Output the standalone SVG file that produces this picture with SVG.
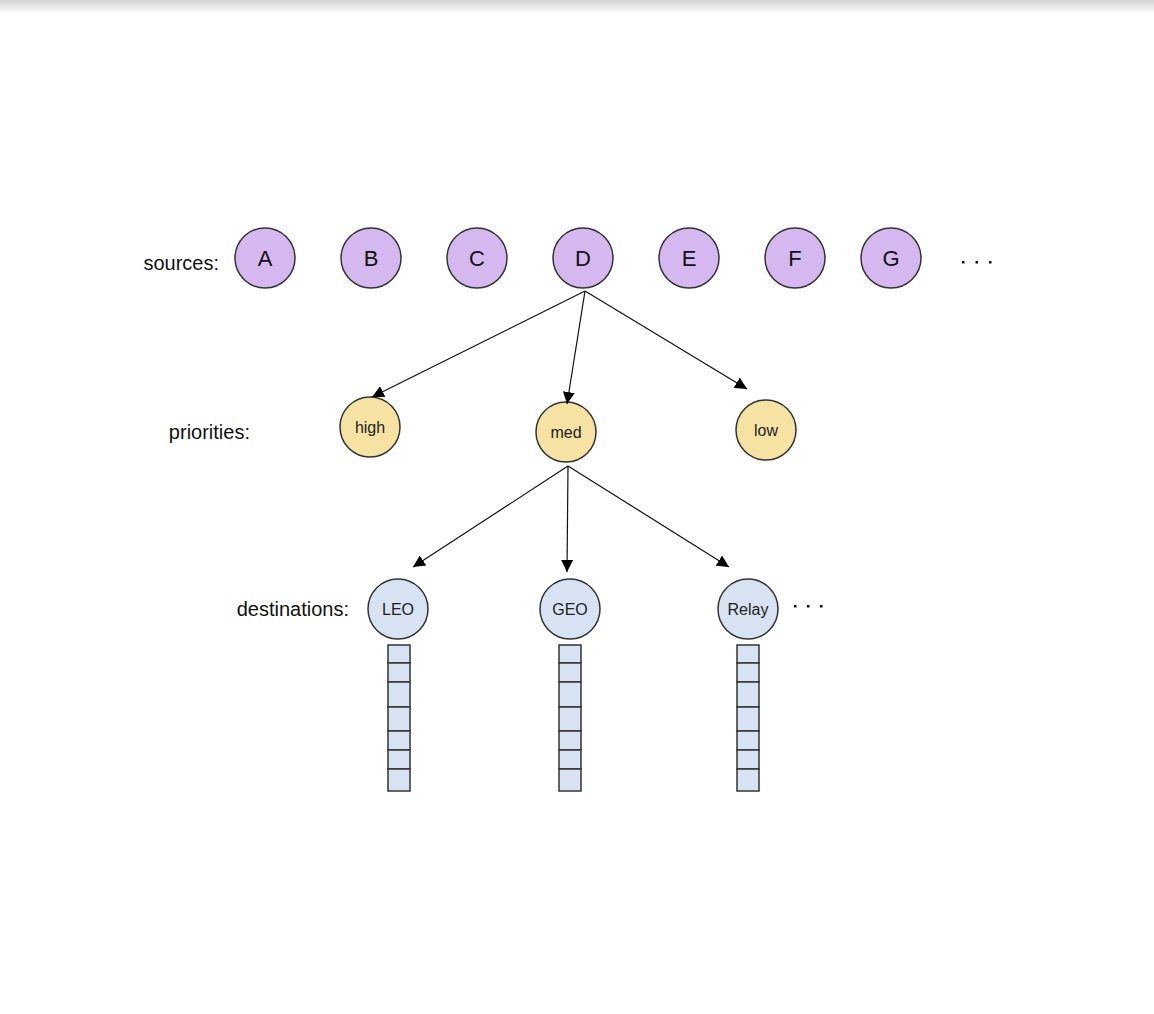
<svg xmlns="http://www.w3.org/2000/svg" width="1154" height="1014" viewBox="0 0 1154 1014">
<defs>
<linearGradient id="shadow" x1="0" y1="0" x2="0" y2="1">
<stop offset="0" stop-color="#d4d4d4"/>
<stop offset="1" stop-color="#ffffff"/>
</linearGradient>
<marker id="arr" viewBox="0 0 10 10" refX="10" refY="5" markerWidth="12" markerHeight="12" markerUnits="userSpaceOnUse" orient="auto">
<path d="M0,0 L10,5 L0,10 z" fill="#000"/>
</marker>
<style>
.src{fill:#d5b8f0;stroke:#333;stroke-width:1.5}
.pri{fill:#f6e2a2;stroke:#333;stroke-width:1.5}
.dst{fill:#d7e2f2;stroke:#333;stroke-width:1.5}
.cell{fill:#d7e2f2;stroke:#333;stroke-width:1.5}
.big{font-family:"Liberation Sans",Arial,sans-serif;font-size:22px;fill:#111;text-anchor:middle}
.sm{font-family:"Liberation Sans",Arial,sans-serif;font-size:16px;fill:#222;text-anchor:middle}
.lbl{font-family:"Liberation Sans",Arial,sans-serif;font-size:20px;fill:#111;text-anchor:end}
.conn line{stroke:#111;stroke-width:1.2;marker-end:url(#arr)}
</style>
</defs>
<rect width="1154" height="1014" fill="#fff"/>
<rect width="1154" height="14" fill="url(#shadow)"/>

<text class="lbl" x="219" y="270">sources:</text>
<text class="lbl" x="250" y="439">priorities:</text>
<text class="lbl" x="349" y="616">destinations:</text>

<g id="A"><circle class="src" cx="265" cy="258" r="30"/><text class="big" x="265" y="266">A</text></g>
<g id="B"><circle class="src" cx="371" cy="258" r="30"/><text class="big" x="371" y="266">B</text></g>
<g id="C"><circle class="src" cx="477" cy="258" r="30"/><text class="big" x="477" y="266">C</text></g>
<g id="D"><circle class="src" cx="583" cy="258" r="30"/><text class="big" x="583" y="266">D</text></g>
<g id="E"><circle class="src" cx="689" cy="258" r="30"/><text class="big" x="689" y="266">E</text></g>
<g id="F"><circle class="src" cx="795" cy="258" r="30"/><text class="big" x="795" y="266">F</text></g>
<g id="G"><circle class="src" cx="891" cy="258" r="30"/><text class="big" x="891" y="266">G</text></g>
<g id="src-more" fill="#111"><rect x="962" y="261" width="2.5" height="2.5"/><rect x="975.5" y="261" width="2.5" height="2.5"/><rect x="989" y="261" width="2.5" height="2.5"/></g>

<g id="high"><circle class="pri" cx="370" cy="427" r="30"/><text class="sm" x="370" y="433">high</text></g>
<g id="med"><circle class="pri" cx="566" cy="432" r="30"/><text class="sm" x="566" y="438">med</text></g>
<g id="low"><circle class="pri" cx="766" cy="430" r="30"/><text class="sm" x="766" y="436">low</text></g>

<g id="LEO"><circle class="dst" cx="398" cy="609" r="30"/><text class="sm" x="398" y="615">LEO</text>
<g><rect class="cell" x="388" y="645" width="22" height="18"/><rect class="cell" x="388" y="663" width="22" height="19"/><rect class="cell" x="388" y="682" width="22" height="25"/><rect class="cell" x="388" y="707" width="22" height="24"/><rect class="cell" x="388" y="731" width="22" height="19"/><rect class="cell" x="388" y="750" width="22" height="19"/><rect class="cell" x="388" y="769" width="22" height="22"/></g></g>
<g id="GEO"><circle class="dst" cx="570" cy="609" r="30"/><text class="sm" x="570" y="615">GEO</text>
<g><rect class="cell" x="559" y="645" width="22" height="18"/><rect class="cell" x="559" y="663" width="22" height="19"/><rect class="cell" x="559" y="682" width="22" height="25"/><rect class="cell" x="559" y="707" width="22" height="24"/><rect class="cell" x="559" y="731" width="22" height="19"/><rect class="cell" x="559" y="750" width="22" height="19"/><rect class="cell" x="559" y="769" width="22" height="22"/></g></g>
<g id="Relay"><circle class="dst" cx="748" cy="609" r="30"/><text class="sm" x="748" y="615">Relay</text>
<g><rect class="cell" x="737" y="645" width="22" height="18"/><rect class="cell" x="737" y="663" width="22" height="19"/><rect class="cell" x="737" y="682" width="22" height="25"/><rect class="cell" x="737" y="707" width="22" height="24"/><rect class="cell" x="737" y="731" width="22" height="19"/><rect class="cell" x="737" y="750" width="22" height="19"/><rect class="cell" x="737" y="769" width="22" height="22"/></g></g>
<g id="dst-more" fill="#111"><rect x="794" y="605" width="2.5" height="2.5"/><rect x="807" y="605" width="2.5" height="2.5"/><rect x="820" y="605" width="2.5" height="2.5"/></g>

<g id="connectors" class="conn">
<line x1="585" y1="291" x2="372" y2="397"/>
<line x1="585" y1="291" x2="567" y2="404"/>
<line x1="585" y1="291" x2="747" y2="389"/>
<line x1="568" y1="466" x2="413" y2="567"/>
<line x1="568" y1="466" x2="567" y2="572"/>
<line x1="568" y1="466" x2="729" y2="567"/>
</g>
</svg>
